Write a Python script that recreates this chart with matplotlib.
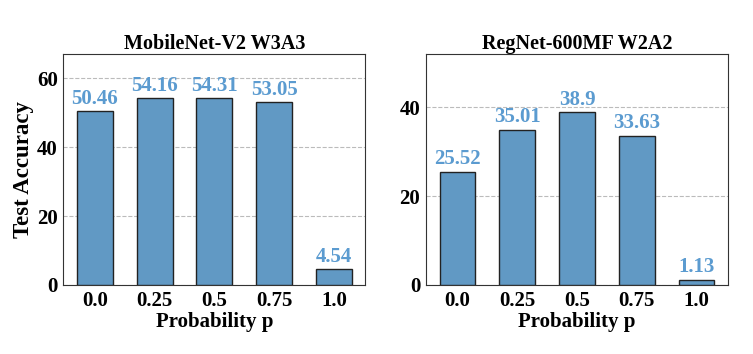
import numpy as np
import matplotlib.pyplot as plt

plt.rcParams['font.family'] = 'Liberation Serif'
plt.rcParams['font.weight'] = 'bold'

probs = ['0.0', '0.25', '0.5', '0.75', '1.0']
mbv2_acc = [50.46, 54.16, 54.31, 53.05, 4.54]
regnet_acc = [25.52, 35.01, 38.9, 33.63, 1.13]
titles = ['MobileNet-V2 W3A3', 'RegNet-600MF W2A2']
ylims = [67, 52]

bar_color = '#6199c4'
text_color = '#5b9bd0'

fig, axes = plt.subplots(1, 2, figsize=(7.53, 3.54), dpi=100)
fig.subplots_adjust(left=0.084, right=0.967, top=0.847, bottom=0.195, wspace=0.2)

for ax, vals, title, top in zip(axes, [mbv2_acc, regnet_acc], titles, ylims):
    x = np.arange(len(probs))
    ax.bar(x, vals, width=0.6, color=bar_color, edgecolor='#222222', linewidth=1, zorder=3)
    for xi, v in zip(x, vals):
        ax.text(xi, v + 0.6, f'{v:g}', ha='center', va='bottom', color=text_color,
                fontsize=15, fontweight='bold')
    ax.set_xticks(x)
    ax.set_xticklabels(probs)
    ax.set_ylim(0, top)
    ax.set_yticks(np.arange(0, top, 20))
    ax.tick_params(length=0, labelsize=15, pad=4)
    ax.yaxis.grid(True, linestyle='--', color='#bbbbbb', linewidth=0.8, zorder=0)
    ax.set_axisbelow(True)
    ax.set_title(title, fontsize=14.5, fontweight='bold', pad=3)
    ax.set_xlabel('Probability p', fontsize=15, fontweight='bold', labelpad=1)
    for s in ax.spines.values():
        s.set_color('#333333')

axes[0].set_ylabel('Test Accuracy', fontsize=16.5, fontweight='bold', labelpad=2)

plt.savefig('out.png', dpi=100)
